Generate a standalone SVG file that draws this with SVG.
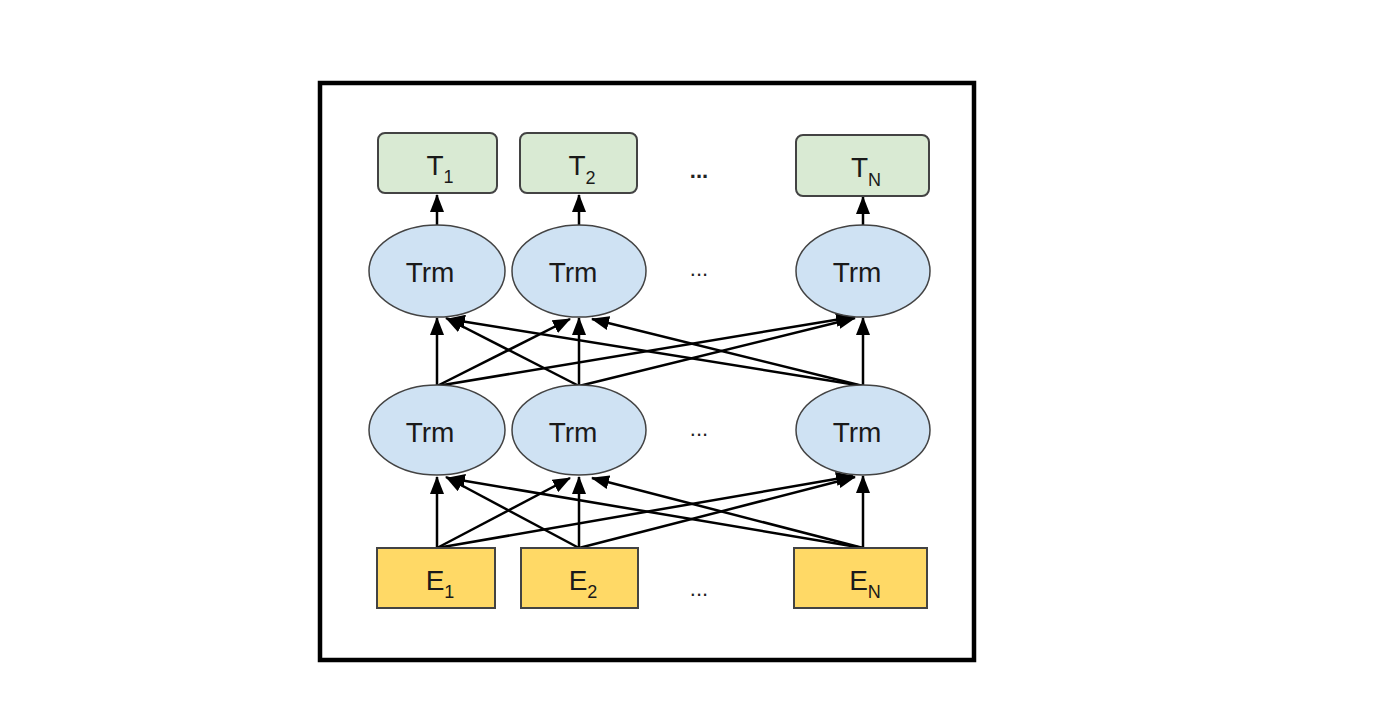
<svg xmlns="http://www.w3.org/2000/svg" width="1396" height="706" viewBox="0 0 1396 706">
<style>
.out{fill:#d9ead3;stroke:#434343;stroke-width:2}
.trm{fill:#cfe2f3;stroke:#434343;stroke-width:1.5}
.emb{fill:#ffd966;stroke:#434343;stroke-width:2}
.lbl{font-family:"Liberation Sans",Arial,sans-serif;font-size:28px;fill:#1a1a1a;text-anchor:middle}
.sub{font-size:18px}
.dots{font-family:"Liberation Sans",Arial,sans-serif;font-size:22px;fill:#222;text-anchor:middle}
.edge{stroke:#000;stroke-width:2.5;fill:none;marker-end:url(#ah)}
</style>
<defs>
<marker id="ah" viewBox="0 0 18 14" refX="17" refY="7" markerWidth="18" markerHeight="14" markerUnits="userSpaceOnUse" orient="auto">
<path d="M0,0 L18,7 L0,14 z" fill="#000"/>
</marker>
</defs>
<rect width="1396" height="706" fill="#fff"/>
<rect id="frame" x="320" y="83" width="654" height="577" fill="none" stroke="#000" stroke-width="4.5"/>

<g id="connectors">
<line class="edge" x1="437" y1="226" x2="437" y2="195"/>
<line class="edge" x1="579" y1="226" x2="579" y2="195"/>
<line class="edge" x1="863" y1="226" x2="863" y2="197"/>

<line class="edge" x1="437" y1="386" x2="437" y2="318"/>
<line class="edge" x1="437" y1="386" x2="570" y2="319"/>
<line class="edge" x1="437" y1="386" x2="853" y2="317"/>
<line class="edge" x1="579" y1="386" x2="446" y2="318"/>
<line class="edge" x1="579" y1="386" x2="579" y2="318"/>
<line class="edge" x1="579" y1="386" x2="855" y2="318"/>
<line class="edge" x1="863" y1="386" x2="448" y2="319"/>
<line class="edge" x1="863" y1="386" x2="592" y2="319"/>
<line class="edge" x1="863" y1="386" x2="863" y2="318"/>

<line class="edge" x1="437" y1="548" x2="437" y2="477"/>
<line class="edge" x1="437" y1="548" x2="570" y2="478"/>
<line class="edge" x1="437" y1="548" x2="853" y2="476"/>
<line class="edge" x1="579" y1="548" x2="446" y2="477"/>
<line class="edge" x1="579" y1="548" x2="579" y2="477"/>
<line class="edge" x1="579" y1="548" x2="855" y2="477"/>
<line class="edge" x1="863" y1="548" x2="448" y2="478"/>
<line class="edge" x1="863" y1="548" x2="592" y2="478"/>
<line class="edge" x1="863" y1="548" x2="863" y2="476"/>
</g>

<g id="T1"><rect class="out" x="378" y="133" width="119" height="60" rx="7"/><text class="lbl" x="440" y="175">T<tspan class="sub" dy="8">1</tspan></text></g>
<g id="T2"><rect class="out" x="520" y="133" width="117" height="60" rx="7"/><text class="lbl" x="582" y="175">T<tspan class="sub" dy="9">2</tspan></text></g>
<g id="TN"><rect class="out" x="796" y="135" width="133" height="61" rx="7"/><text class="lbl" x="866" y="177">T<tspan class="sub" dy="9">N</tspan></text></g>
<text class="dots" x="699" y="178" font-weight="bold">...</text>

<g id="trmA1"><ellipse class="trm" cx="437" cy="271" rx="68" ry="46"/><text class="lbl" x="430" y="282">Trm</text></g>
<g id="trmA2"><ellipse class="trm" cx="579" cy="271" rx="67" ry="46"/><text class="lbl" x="573" y="282">Trm</text></g>
<g id="trmAN"><ellipse class="trm" cx="863" cy="271" rx="67" ry="46"/><text class="lbl" x="857" y="282">Trm</text></g>
<text class="dots" x="699" y="276">...</text>

<g id="trmB1"><ellipse class="trm" cx="437" cy="430" rx="68" ry="45"/><text class="lbl" x="430" y="442">Trm</text></g>
<g id="trmB2"><ellipse class="trm" cx="579" cy="430" rx="67" ry="45"/><text class="lbl" x="573" y="442">Trm</text></g>
<g id="trmBN"><ellipse class="trm" cx="863" cy="430" rx="67" ry="45"/><text class="lbl" x="857" y="442">Trm</text></g>
<text class="dots" x="699" y="436">...</text>

<g id="E1"><rect class="emb" x="377" y="548" width="118" height="60"/><text class="lbl" x="440" y="590">E<tspan class="sub" dy="8">1</tspan></text></g>
<g id="E2"><rect class="emb" x="521" y="548" width="117" height="60"/><text class="lbl" x="583" y="590">E<tspan class="sub" dy="8">2</tspan></text></g>
<g id="EN"><rect class="emb" x="794" y="548" width="133" height="60"/><text class="lbl" x="865" y="590">E<tspan class="sub" dy="8">N</tspan></text></g>
<text class="dots" x="699" y="596">...</text>
</svg>
